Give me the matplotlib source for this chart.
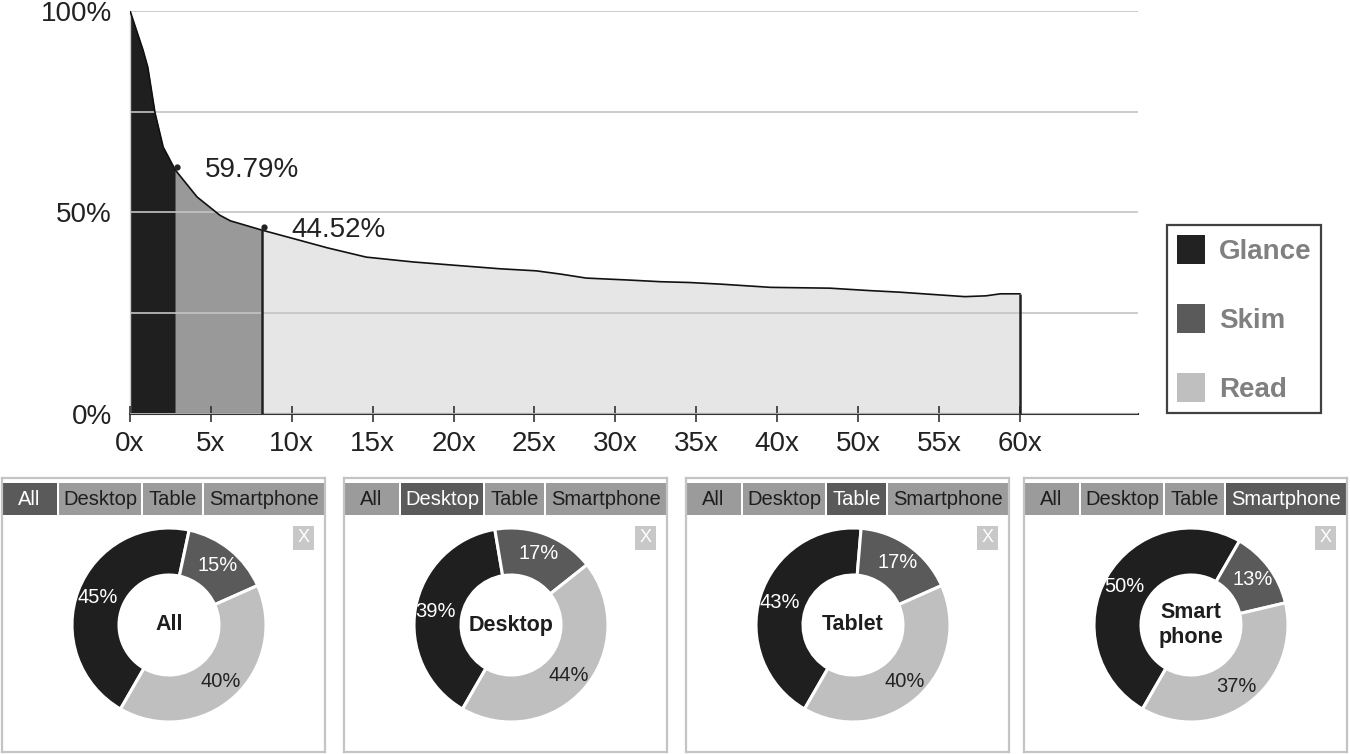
import numpy as np
import matplotlib
matplotlib.use('Agg')
import matplotlib.pyplot as plt
import matplotlib.transforms as mtransforms
from matplotlib.patches import Rectangle, Patch

plt.rcParams['font.family'] = ['Liberation Sans', 'DejaVu Sans']

# reading depth curve: share of visitors (%) still reading at x times the page
depth = [0, 0.8, 1.1, 1.55, 2.05, 2.8, 4.15, 5.55, 6.2, 8.15, 10, 12.2, 14.6, 17.5,
         20, 22.9, 25.1, 26.6, 28.2, 30.9, 32.8, 34.6, 36.5, 39.6, 46.5, 50.7,
         52.6, 54.4, 56.6, 57.9, 58.8, 60]
share = [100, 90.3, 86, 74.6, 66.2, 60.5, 53.8, 49.3, 47.9, 45.6, 43.6, 41.2, 38.9, 37.7,
         36.9, 36.0, 35.5, 34.7, 33.7, 33.2, 32.8, 32.6, 32.2, 31.4, 31.2, 30.6,
         30.2, 29.7, 29.1, 29.3, 29.8, 29.8]
bounds = [0, 2.8, 8.15, 60]          # glance | skim | read
marks = [59.79, 44.52]
tick_vals = [0, 5, 10, 15, 20, 25, 30, 35, 40, 50, 55, 60]
modes = ['Glance', 'Skim', 'Read']

# donuts per device
tab_labels = ['All', 'Desktop', 'Table', 'Smartphone']
center_labels = ['All', 'Desktop', 'Tablet', 'Smart\nphone']
glance_pct = [45, 39, 43, 50]
skim_pct = [15, 17, 17, 13]
read_pct = [40, 44, 40, 37]

W, H = 1350, 754
fig = plt.figure(figsize=(W / 100, H / 100), dpi=100)

# ---- top area chart ----
ax = fig.add_axes([130 / W, (H - 414) / H, (1138 - 130) / W, (414 - 10.7) / H])

# the x labels are evenly spaced although 45x is skipped
xs_k = [-5] + tick_vals + [120]
ix_k = list(range(-1, len(tick_vals))) + [len(tick_vals) - 1 + 12]
fwd = lambda x: np.interp(x, xs_k, ix_k)
inv = lambda i: np.interp(i, ix_k, xs_k)
ax.set_xscale('function', functions=(fwd, inv))
ax.set_xlim(0, 67.3)
ax.set_ylim(0, 100)

d = np.array(depth)
s = np.array(share)
area_cols = ['#1f1f1f', '#999999', '#e6e6e6']
for k, c in enumerate(area_cols):
    m = (d >= bounds[k]) & (d <= bounds[k + 1])
    ax.fill_between(d[m], s[m], 0, color=c, lw=0, zorder=1)

ax.plot(d, s, color='#111111', lw=1.2, zorder=3)
edge_x = bounds[2:]
ax.vlines(edge_x, 0, np.interp(edge_x, d, s), color='#222222', lw=1.8, zorder=3)

dot_tr = mtransforms.offset_copy(ax.transData, fig=fig, x=2, y=3, units='dots')
for xb, val in zip(bounds[1:3], marks):
    yb = np.interp(xb, d, s)
    ax.plot([xb], [yb], 'o', ms=3.5, color='#222222', transform=dot_tr, zorder=4)
    ax.annotate(f'{val:.2f}%', xy=(xb, yb), xytext=(21, 0), textcoords='offset points',
                va='center', ha='left', fontsize=20, color='#222222')

ax.set_yticks([0, 25, 50, 75, 100], labels=['0%', '', '50%', '', '100%'])
ax.set_xticks(tick_vals, labels=[f'{v}x' for v in tick_vals])
ax.set_axisbelow(False)
ax.yaxis.grid(True, color='#c4c4c4', lw=1.2)
ax.tick_params(axis='x', direction='inout', length=12, width=1.2, color='#333333',
               labelsize=20, pad=6, labelcolor='#222222')
ax.tick_params(axis='y', length=0, pad=13, labelsize=20, labelcolor='#222222')
ax.spines[['top', 'right']].set_visible(False)
ax.spines['left'].set_color('#cccccc')
ax.spines['left'].set_linewidth(1)
ax.spines['bottom'].set_color('#333333')
ax.spines['bottom'].set_linewidth(1.5)

leg_cols = ['#222222', '#5a5a5a', '#bfbfbf']
handles = [Patch(facecolor=c, edgecolor='none') for c in leg_cols]
leg = fig.legend(handles, modes, loc='upper left', bbox_to_anchor=(1167 / W, 1 - 225 / H),
                 frameon=True, fancybox=False, edgecolor='#111111',
                 prop=dict(weight='bold', size=20), labelcolor='#808080',
                 handlelength=1.0, handleheight=1.22, labelspacing=1.42,
                 borderpad=0.36, handletextpad=0.5, borderaxespad=0)
leg.get_frame().set_linewidth(1.6)

# ---- device donuts ----
panel_left = [2, 344, 686, 1024]
pw, ph = 323, 274
tab_x = [(0, 55), (57, 139), (141, 200), (202, 323)]
donut_cols = ['#1f1f1f', '#5a5a5a', '#bfbfbf']
pct_cols = ['white', 'white', '#222222']

for i, L in enumerate(panel_left):
    pax = fig.add_axes([L / W, 2 / H, pw / W, ph / H])
    for j, (x0, x1) in enumerate(tab_x):
        on = j == i
        pax.add_patch(Rectangle((x0, 237), x1 - x0, 32, fc='#5a5a5a' if on else '#9b9b9b', lw=0))
        pax.text((x0 + x1) / 2, 252.5, tab_labels[j], ha='center', va='center', fontsize=14.5,
                 color='white' if on else '#1e1e1e')
    pax.add_patch(Rectangle((291, 202), 21, 24, fc='#c8c8c8', lw=0))
    pax.text(301.5, 214, 'X', ha='center', va='center', fontsize=13, color='white')

    wedges, texts, autotexts = pax.pie(
        [glance_pct[i], skim_pct[i], read_pct[i]], colors=donut_cols, radius=97,
        center=(167, 127), startangle=240, counterclock=False,
        wedgeprops=dict(width=47, edgecolor='white', linewidth=2.2),
        autopct=lambda p: f'{p:.0f}%', pctdistance=0.79,
        textprops=dict(fontsize=14.5), frame=True)
    for t, c in zip(autotexts, pct_cols):
        t.set_color(c)
    pax.text(167, 127, center_labels[i], ha='center', va='center', fontsize=15.5,
             fontweight='bold', color='#1e1e1e', linespacing=1.25)

    pax.set_aspect('auto')
    pax.set_xlim(0, pw)
    pax.set_ylim(0, ph)
    pax.set_xticks([])
    pax.set_yticks([])
    for sp in pax.spines.values():
        sp.set_color('#c4c4c4')
        sp.set_linewidth(1.6)

fig.savefig('out.png', dpi=100)
